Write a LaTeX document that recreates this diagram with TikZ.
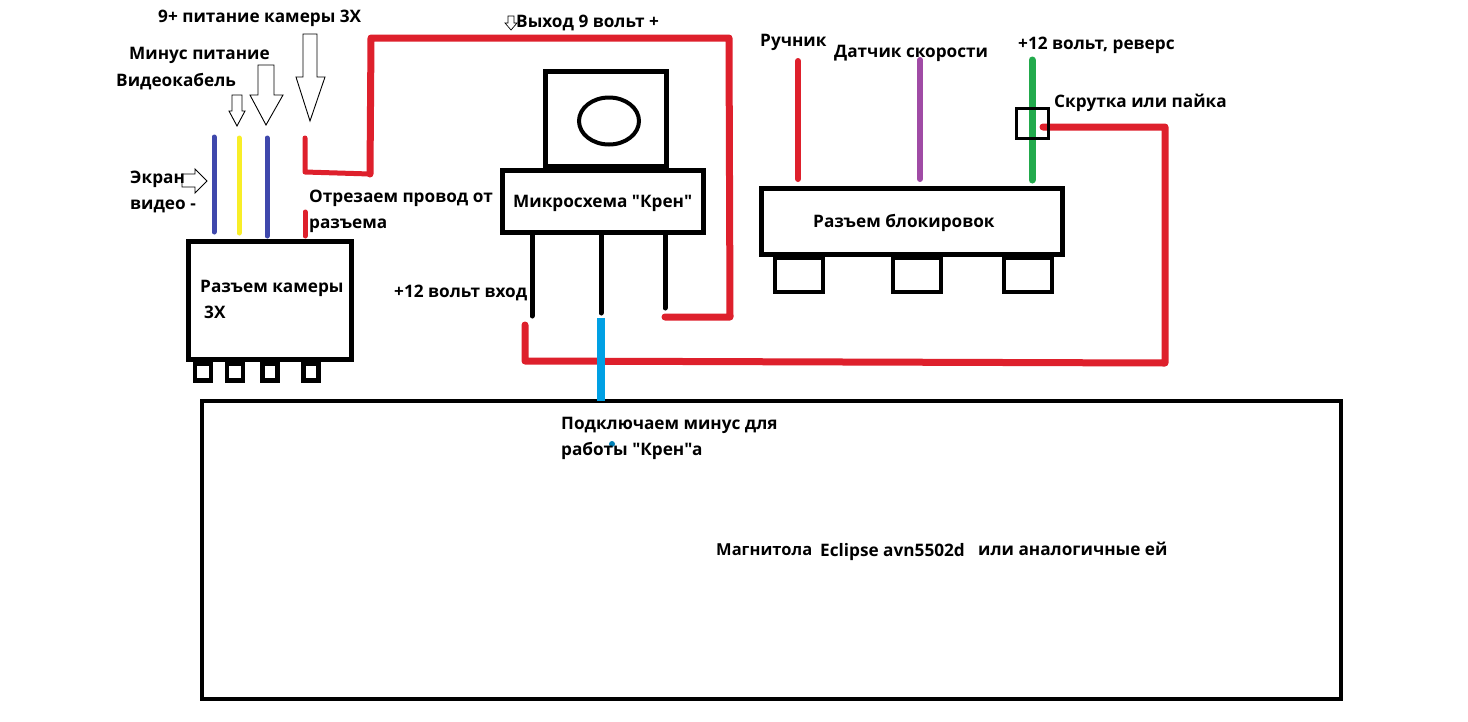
\documentclass[tikz,border=0pt]{standalone}
\usepackage{fontspec}
\usetikzlibrary{shapes.geometric}
\setmainfont{Open Sans}[Ligatures=TeXOff]
\definecolor{wred}{RGB}{222,32,44}
\definecolor{wblue}{RGB}{63,72,172}
\definecolor{wyellow}{RGB}{248,238,40}
\definecolor{wgreen}{RGB}{34,170,76}
\definecolor{wpurple}{RGB}{160,75,165}
\definecolor{wcyan}{RGB}{0,160,228}
\tikzset{
 lbl/.style={anchor=base west,inner sep=0pt,font=\fontsize{17.2}{18}\selectfont\bfseries,text=black},
 lblsmall/.style={lbl,font=\fontsize{16.5}{18}\selectfont\bfseries},
 box/.style={draw=black,line width=5pt,fill=none,inner sep=0pt,minimum width=0pt},
 wire/.style={line width=#1,line cap=round,line join=round},
 hollow/.style={draw=black,line width=0.9pt,fill=white,line join=miter},
}
\begin{document}
\begin{tikzpicture}[x=1pt,y=-1pt]
\useasboundingbox (0,0) rectangle (1468,721);
\fill[white] (0,0) rectangle (1468,721);
% coordinates
\foreach \n/\x/\y in {a1/214/137,a2/214/232,b1/239/138,b2/239/233,c1/267/138,c2/267/236,
 d1/305/138,d2/305/172,d3/370/174,d4/371/38,d5/729/38,d6/730/317,d7/665/317,e1/305/212,e2/305/236,
 f1/798/61,f2/798/179,g1/920/60,g2/920/179,h1/1032/60,h2/1032/180,
 i1/1043/127,i2/1165/127,i3/1165/363,i4/525/361,i5/525/325,
 j1/532/233,j2/532/316,k1/601/233,k2/601/313,l1/665/233,l2/665/308,
 m1/601/318,m2/601/401}
 {\coordinate (\n) at (\x,\y);}
% boxes
\draw[black,line width=4.5pt] (202,401) rectangle (1341,699);
\node[box,minimum width=163pt,minimum height=118pt] (cam) at (270,300.5) {};
\foreach \n/\x/\w in {p1/203/16,p2/235/16,p3/270/15,p4/311/15}
 \node[box,line width=4.5pt,minimum width=\w pt,minimum height=17pt] (\n) at (\x,372) {};
\node[box,minimum width=121pt,minimum height=95pt] (top) at (606,119) {};
\node[draw=black,line width=4pt,ellipse,minimum width=60pt,minimum height=47pt] (oval) at (609,121) {};
\node[box,minimum width=201pt,minimum height=62pt] (kren) at (603,201) {};
\node[box,minimum width=301pt,minimum height=66pt] (blk) at (912,221) {};
\foreach \n/\x/\w in {q1/799/48,q2/917/48,q3/1028/48}
 \node[box,line width=4.5pt,minimum width=\w pt,minimum height=34pt] (\n) at (\x,275) {};
% wires
\draw[wire=5pt,wblue] (a1)--(a2);
\draw[wire=5pt,wyellow] (b1)--(b2);
\draw[wire=5pt,wblue] (c1)--(c2);
\draw[wire=5pt,wred] (d1)--(d2)--(d3);
\draw[wire=7pt,wred] (d3)--(d4)--(d5)--(d6)--(d7);
\draw[wire=5pt,wred] (e1)--(e2);
\draw[wire=5pt,black] (j1)--(j2);
\draw[wire=5pt,black] (k1)--(k2);
\draw[wire=5pt,black] (l1)--(l2);
\draw[wire=6pt,wred] (f1)--(f2);
\draw[wire=6pt,wpurple] (g1)--(g2);
\draw[wire=7pt,wgreen] (h1)--(h2);
\draw[wire=7pt,wred] (i1)--(i2)--(i3)--(i4)--(i5);
\draw[wire=8pt,wcyan,line cap=butt] (m1)--(m2);
\fill[wcyan!80!black] (612,444) circle (3);
\node[draw=black,line width=3pt,minimum width=32pt,minimum height=30pt,inner sep=0pt] (tw) at (1032,123) {};
% hollow arrows
\draw[hollow] (303,34)--(317,34)--(317,77)--(325,77)--(310,121)--(296,77)--(303,77)--cycle;
\draw[hollow] (258,65)--(274,65)--(274,95)--(283,95)--(266,125)--(250,95)--(258,95)--cycle;
\draw[hollow] (232,95)--(242,95)--(242,111)--(245,111)--(237,126)--(229,111)--(232,111)--cycle;
\draw[hollow] (182,174)--(195,174)--(195,169)--(207,181)--(195,193)--(195,187)--(182,187)--cycle;
\draw[hollow,line width=.7pt] (508,16)--(514,16)--(514,23)--(517,23)--(511,30)--(505,23)--(508,23)--cycle;
% labels
\node[lbl] (t1) at (158,22) {9+ питание камеры 3Х};
\node[lbl] (t2) at (129,59) {Минус питание};
\node[lbl] (t3) at (116,86) {Видеокабель};
\node[lbl] (t4) at (130,183) {Экран};
\node[lbl] (t5) at (130,209) {видео -};
\node[lbl] (t6) at (309,202) {Отрезаем провод от};
\node[lbl] (t7) at (309,228) {разъема};
\node[lbl] (t8) at (516,27) {Выход 9 вольт +};
\node[lbl] (t9) at (513,207) {Микросхема "Крен"};
\node[lbl] (t10) at (760,46) {Ручник};
\node[lbl] (t11) at (834,57) {Датчик скорости};
\node[lbl] (t12) at (1018,49) {+12 вольт, реверс};
\node[lbl] (t13) at (1054,107) {Скрутка или пайка};
\node[lbl] (t14) at (813,227) {Разъем блокировок};
\node[lbl] (t15) at (200,292) {Разъем камеры};
\node[lbl] (t16) at (204,318) {3Х};
\node[lbl] (t17) at (394,297) {+12 вольт вход};
\node[lbl] (t18) at (561,429) {Подключаем минус для};
\node[lbl] (t19) at (561,455) {работы "Крен"а};
\node[lblsmall] (t20) at (716,555) {Магнитола};
\node[lbl] (t21) at (820,556) {Eclipse avn5502d};
\node[lbl] (t22) at (978,555) {или аналогичные ей};
\end{tikzpicture}
\end{document}
